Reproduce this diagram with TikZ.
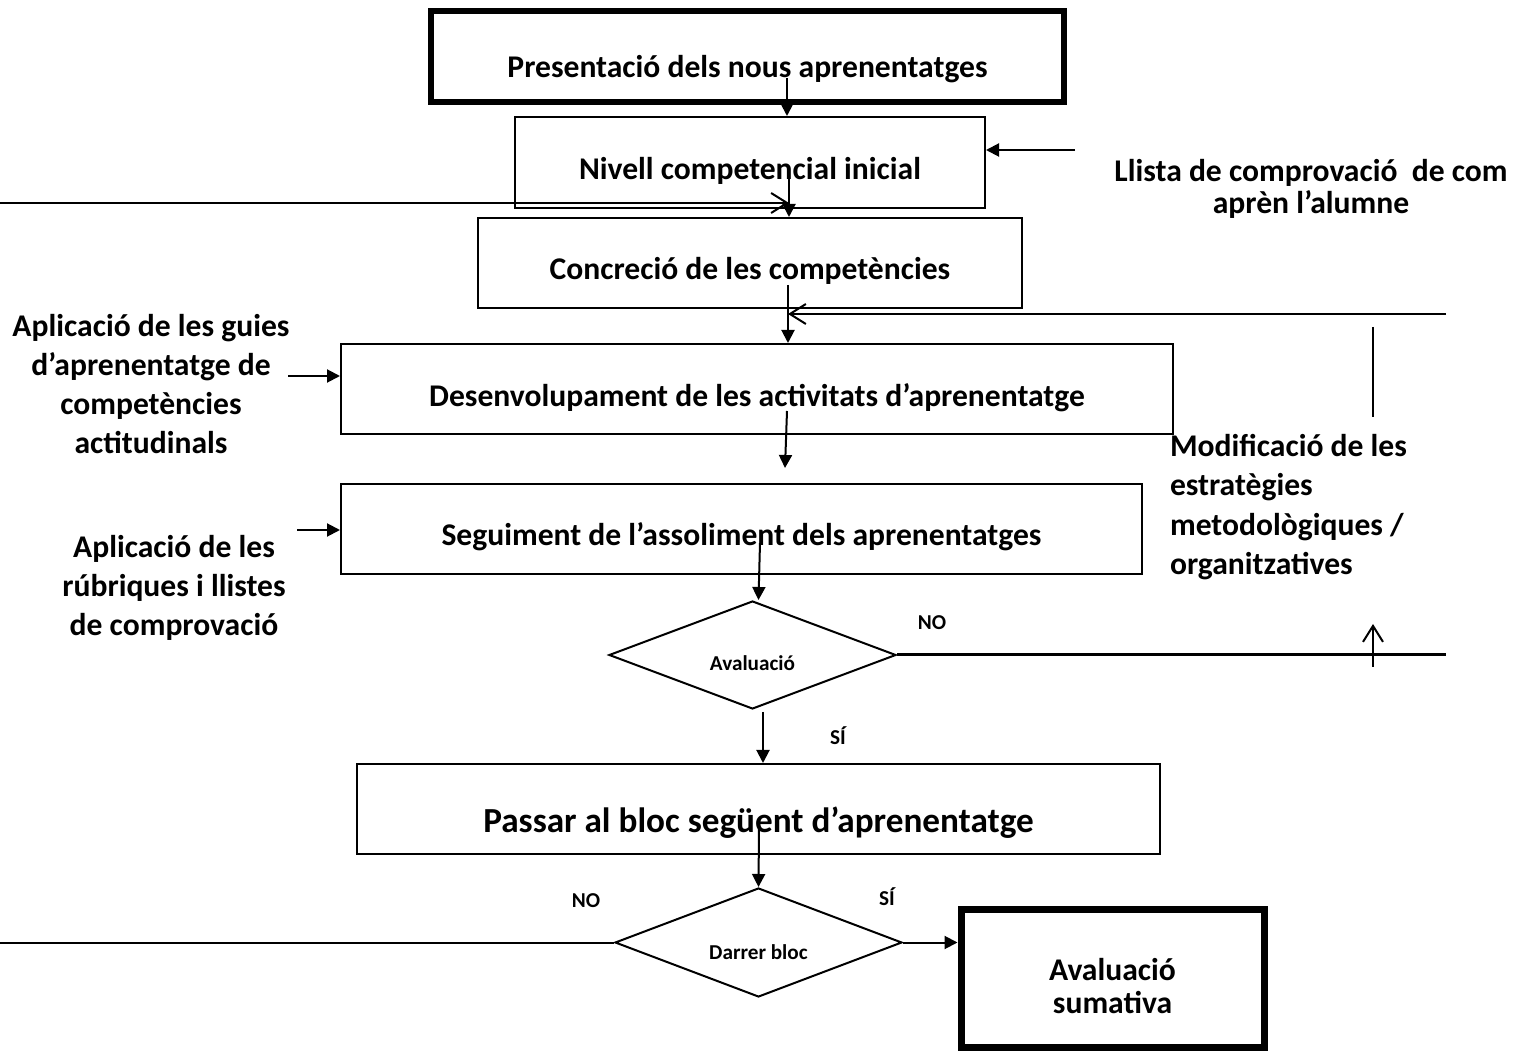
\documentclass[tikz,border=0pt]{standalone}
\usepackage{fontspec}
\setmainfont{Carlito}
\usetikzlibrary{shapes.geometric,arrows.meta}

\tikzset{
    caixa/.style={shape=rectangle, draw=black, line width=1pt, inner sep=0pt,
        minimum height=45pt, minimum width=#1,
        font=\bfseries\fontsize{15.8}{19}\selectfont, text height=17pt, text depth=0pt},
    caixagran/.style={caixa=#1, line width=3pt},
    rombe/.style={shape=diamond, aspect=2.6, draw=black, line width=1pt, inner sep=0pt,
        minimum width=143.5pt, minimum height=54pt,
        font=\bfseries\fontsize{10.6}{13}\selectfont, text height=16pt, text depth=0pt},
    rotul/.style={font=\bfseries\fontsize{10.6}{13}\selectfont},
    nota/.style={align=center, font=\bfseries\fontsize{15.8}{19.5}\selectfont},
    fletxa/.style={line width=1pt, -{Triangle[length=6.5pt,width=6.5pt]}},
    oberta/.style={line width=1pt, -{Straight Barb[length=8pt,width=10pt]}}
}

\begin{document}
\begin{tikzpicture}[x=0.5pt,y=-0.5pt]
                \useasboundingbox (0,0) rectangle (1517,1053);

                \node[caixagran=316.5pt, minimum height=45.5pt, text height=21.5pt] (pres) at (747.5,56.5) {Presentació dels nous aprenentatges};
                \node[caixa=235pt, minimum height=45.5pt] (nivell) at (750,162.5) {Nivell competencial inicial};
                \node[caixa=272pt] (concr) at (750,263) {Concreció de les competències};
                \node[caixa=416pt, text height=18pt] (desen) at (757,389) {Desenvolupament de les activitats d’aprenentatge};
                \node[caixa=400.5pt] (segui) at (741.5,529) {Seguiment de l’assoliment dels aprenentatges};
                \node[rombe] (aval) at (752.5,655) {Avaluació};
                \node[caixa=401.5pt, font=\bfseries\fontsize{17.6}{21}\selectfont, text height=23.5pt] (passar) at (758.5,809) {Passar al bloc següent d’aprenentatge};
                \node[rombe, minimum height=54.5pt, text height=16.5pt] (darrer) at (758.5,942.5) {Darrer bloc};
                \node[caixagran=151.5pt, line width=3.5pt, minimum height=69pt, align=center, font=\bfseries\fontsize{15.8}{16.5}\selectfont, text height=35pt, text depth=0pt] (sumat) at (1112.5,978) {Avaluació\\sumativa};

                \node[nota, font=\bfseries\fontsize{15.8}{16}\selectfont] (llista) at (1311,189) {Llista de comprovació\ \ de com\\aprèn l’alumne};
                \node[nota] (guies) at (151,384) {Aplicació de les guies\\d’aprenentatge de\\competències\\actitudinals};
                \node[nota] (rubriq) at (174,588) {Aplicació de les\\rúbriques i llistes\\de comprovació};
                \node[nota, align=left, anchor=west, font=\bfseries\fontsize{15.8}{19.8}\selectfont] (modif) at (1163,507) {Modificació de les\\estratègies\\metodològiques /\\organitzatives};

                \node[rotul] (no1) at (932,623) {NO};
                \node[rotul] (si1) at (838,736) {SÍ};
                \node[rotul] (no2) at (586,901) {NO};
                \node[rotul] (si2) at (887,897) {SÍ};

                \coordinate (s1) at (787,78);
                \coordinate (s2) at (789,178);
                \coordinate (s3) at (788,285);
                \coordinate (s4) at (787,411);
                \coordinate (e4) at (785,468);
                \coordinate (s5) at (760,543);
                \coordinate (s6) at (763,712);
                \coordinate (s7) at (759,828);
                \coordinate (l1) at (0,203);
                \coordinate (r1) at (1446,314);
                \coordinate (r3) at (1075,150);
                \coordinate (g1) at (288,376);
                \coordinate (g2) at (297,530);
                \coordinate (m1) at (1373,327);
                \coordinate (m2) at (1373,417);
                \coordinate (m3) at (1373,667);
                \coordinate (m4) at (1373,624);

                \draw[fletxa] (s1) -- (s1 |- nivell.north);
                \draw[fletxa] (s2) -- (s2 |- concr.north);
                \draw[oberta] (l1) -- (l1 -| s2);
                \draw[fletxa] (r3) -- (r3 -| nivell.east);
                \draw[fletxa] (s3) -- (s3 |- desen.north);
                \draw[oberta] (r1) -- (r1 -| s3);
                \draw[line width=1pt] (m1) -- (m2);
                \draw[fletxa] (g1) -- (g1 -| desen.west);
                \draw[fletxa] (s4) -- (e4);
                \draw[fletxa] (g2) -- (g2 -| segui.west);
                \draw[fletxa] (s5) -- ([xshift=3pt]aval.north);
                \draw[line width=1.5pt] (aval.east) -- (aval.east -| r1);
                \draw[oberta] (m3) -- (m4);
                \draw[fletxa] (s6) -- (s6 |- passar.north);
                \draw[fletxa] (s7) -- (darrer.north);
                \draw[line width=1pt] (darrer.west) -- (darrer.west -| l1);
                \draw[fletxa] (darrer.east) -- (darrer.east -| sumat.west);
\end{tikzpicture}
\end{document}
